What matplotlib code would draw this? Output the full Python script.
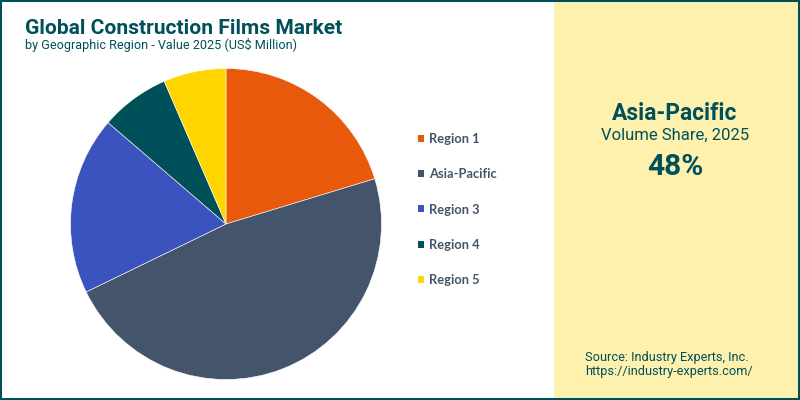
import matplotlib
matplotlib.use("Agg")
import matplotlib.pyplot as plt
from matplotlib.patches import Rectangle

regions = ["Region 1", "Asia-Pacific", "Region 3", "Region 4", "Region 5"]
values = [20.3, 47.5, 18.5, 7.2, 6.5]
colors = ["#E8590C", "#44546A", "#3A53BE", "#00505A", "#FFD500"]

title = "Global Construction Films Market"
subtitle = "by Geographic Region - Value 2025 (US$ Million)"
teal = "#00505A"
panel = "#FEF1AE"

W, H = 800, 400
plt.rcParams["font.family"] = ["Roboto", "DejaVu Sans"]

fig = plt.figure(figsize=(W / 100, H / 100), dpi=100, facecolor="white")


def px(x, y):
    # pixel position from the top left corner -> figure coords
    return x / W, 1 - y / H


# yellow panel and the frame
fig.add_artist(Rectangle((554 / W, 0), (W - 554) / W, 1, transform=fig.transFigure,
                         facecolor=panel, edgecolor="none", zorder=0))
fig.add_artist(Rectangle((0, 0), 1, 1, transform=fig.transFigure, fill=False,
                         edgecolor=teal, linewidth=2.9, zorder=5))

# pie
R = 155.5
cx, cy = 226, 224
ax = fig.add_axes([(cx - R) / W, 1 - (cy + R) / H, 2 * R / W, 2 * R / H])
wedges, _ = ax.pie(values, colors=colors, startangle=90, counterclock=False, radius=1,
                   wedgeprops={"edgecolor": "white", "linewidth": 0.4})
ax.set_xlim(-1, 1)
ax.set_ylim(-1, 1)

# legend
leg = fig.legend(wedges, regions, loc="center left", bbox_to_anchor=px(418, 209.5),
                 frameon=False, handlelength=0.46, handleheight=0.46, handletextpad=0.4,
                 labelspacing=1.8, borderpad=0, borderaxespad=0,
                 prop={"family": "Lato", "weight": "bold", "size": 9.3},
                 labelcolor="#44546A")
for h in leg.legend_handles:
    h.set_edgecolor("none")

# header
x, y = px(25, 28)
fig.text(x, y, title, color=teal, fontsize=15.1, fontweight="bold", va="center", ha="left")
x, y = px(25, 45)
fig.text(x, y, subtitle, color=teal, fontsize=9.05, va="center", ha="left")

# panel text
x, y = px(675, 113)
fig.text(x, y, "Asia-Pacific", color=teal, fontsize=16.4, fontweight="bold", va="center", ha="center")
x, y = px(675, 135)
fig.text(x, y, "Volume Share, 2025", color=teal, fontsize=12, va="center", ha="center")
x, y = px(675, 167)
fig.text(x, y, "48%", color=teal, fontsize=21.5, fontweight="bold", va="center", ha="center")

x, y = px(585, 357)
fig.text(x, y, "Source: Industry Experts, Inc.", color=teal, fontsize=9.2, va="center", ha="left")
x, y = px(585, 371)
fig.text(x, y, "https://industry-experts.com/", color=teal, fontsize=9.2, va="center", ha="left")

fig.savefig("out.png", dpi=100)
